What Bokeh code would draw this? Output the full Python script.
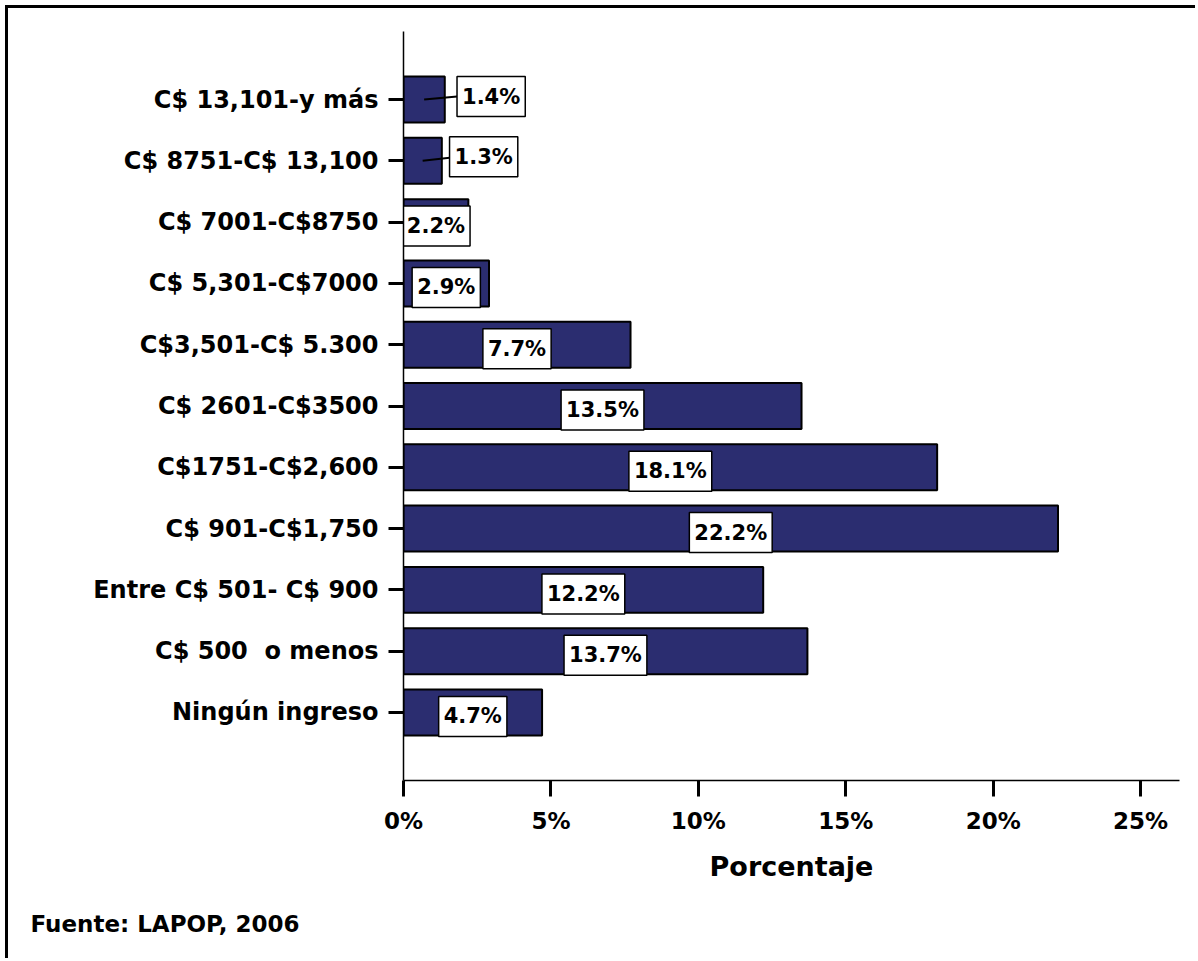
from bokeh.plotting import figure
from bokeh.models import (FactorRange, Range1d, FixedTicker, PrintfTickFormatter,
                          ColumnDataSource, Title)
from bokeh.transform import dodge
from bokeh.embed import file_html
from bokeh.resources import INLINE
from bokeh.core.properties import value

# ---------------- data ----------------
categories = ["Ningún ingreso", "C$ 500\u00a0 o menos", "Entre C$ 501- C$ 900",
              "C$ 901-C$1,750", "C$1751-C$2,600", "C$ 2601-C$3500",
              "C$3,501-C$ 5.300", "C$ 5,301-C$7000", "C$ 7001-C$8750",
              "C$ 8751-C$ 13,100", "C$ 13,101-y más"]
values = [4.7, 13.7, 12.2, 22.2, 18.1, 13.5, 7.7, 2.9, 2.2, 1.3, 1.4]
x_ticks = [0, 5, 10, 15, 20, 25]
x_title = "Porcentaje"
source_note = "Fuente: LAPOP, 2006"

# ---------------- style ----------------
FONT = "DejaVu Sans"
BAR_COLOR = "#2B2D70"
W, H = 1190, 953
LEFT, RIGHT, TOP, BOTTOM = 395, 19, 23, 181
X_MAX = 26.32
frame_w = W - LEFT - RIGHT
px_per_unit = frame_w / X_MAX

# label box offsets (pixels) : callouts for the two smallest top bars
lab_xoff = [0, 0, 0, 0, 0, 0, 0, 0, 0, 61, 67]
lab_yoff = [4, 4, 4, 4, 4, 4, 4, 4, 4, -4, -3]
BOX_HALF_W = 34

labels = ["%.1f%%" % v for v in values]
src = ColumnDataSource(dict(
    cat=categories, val=values, mid=[v / 2 for v in values], lab=labels,
    xo=lab_xoff, yo=lab_yoff,
))

callout_idx = [i for i, o in enumerate(lab_xoff) if o != 0]
lead = ColumnDataSource(dict(
    cat=[categories[i] for i in callout_idx],
    x0=[values[i] / 2 for i in callout_idx],
    x1=[values[i] / 2 + (lab_xoff[i] - BOX_HALF_W) / px_per_unit for i in callout_idx],
))

p = figure(width=W, height=H, output_backend="svg", toolbar_location=None,
           y_range=FactorRange(factors=categories, range_padding=0.61,
                               range_padding_units="absolute"),
           x_range=Range1d(0, X_MAX),
           min_border_left=LEFT, min_border_right=RIGHT,
           min_border_top=TOP, min_border_bottom=BOTTOM)
p.outline_line_color = None
p.xgrid.visible = False
p.ygrid.visible = False
p.background_fill_color = "white"
p.border_fill_color = "white"
p.styles = {"margin-left": "5px", "margin-top": "5px",
            "border-left": "3px solid black", "border-top": "3px solid black"}

p.hbar(y="cat", right="val", left=0, height=0.75, source=src,
       fill_color=BAR_COLOR, line_color="black", line_width=2)

p.segment(x0="x0", y0="cat", x1="x1", y1=dodge("cat", 0.05, range=p.y_range),
          source=lead, line_color="black", line_width=2)

p.text(x="mid", y="cat", text="lab", x_offset="xo", y_offset="yo", source=src,
       text_align="center", text_baseline="middle",
       text_font=value(FONT), text_font_style="bold", text_font_size="21px",
       text_color="black",
       background_fill_color="white", border_line_color="black",
       border_line_width=1.5, padding=(5, 8))

# x axis
xa = p.xaxis[0]
xa.ticker = FixedTicker(ticks=x_ticks)
xa.formatter = PrintfTickFormatter(format="%d%%")
xa.minor_tick_line_color = None
xa.major_tick_in = 0
xa.major_tick_out = 16
xa.major_tick_line_width = 3
xa.axis_line_width = 1.5
xa.major_label_text_font = FONT
xa.major_label_text_font_style = "bold"
xa.major_label_text_font_size = "23px"
xa.major_label_text_color = "black"
xa.major_label_standoff = 11
xa.axis_label = x_title
xa.axis_label_text_font = FONT
xa.axis_label_text_font_style = "bold"
xa.axis_label_text_font_size = "27px"
xa.axis_label_text_color = "black"
xa.axis_label_standoff = 14

# y axis
ya = p.yaxis[0]
ya.major_tick_in = 0
ya.major_tick_out = 15
ya.major_tick_line_width = 3
ya.axis_line_width = 1.5
ya.major_label_text_font = FONT
ya.major_label_text_font_style = "bold"
ya.major_label_text_font_size = "24px"
ya.major_label_text_color = "black"
ya.major_label_standoff = 10

note = Title(text=source_note, align="left", offset=-(403 - 30),
             text_font=FONT, text_font_style="bold", text_font_size="23px",
             text_color="black", standoff=48)
p.add_layout(note, "below")

open("out.html", "w").write(file_html(p, INLINE))
